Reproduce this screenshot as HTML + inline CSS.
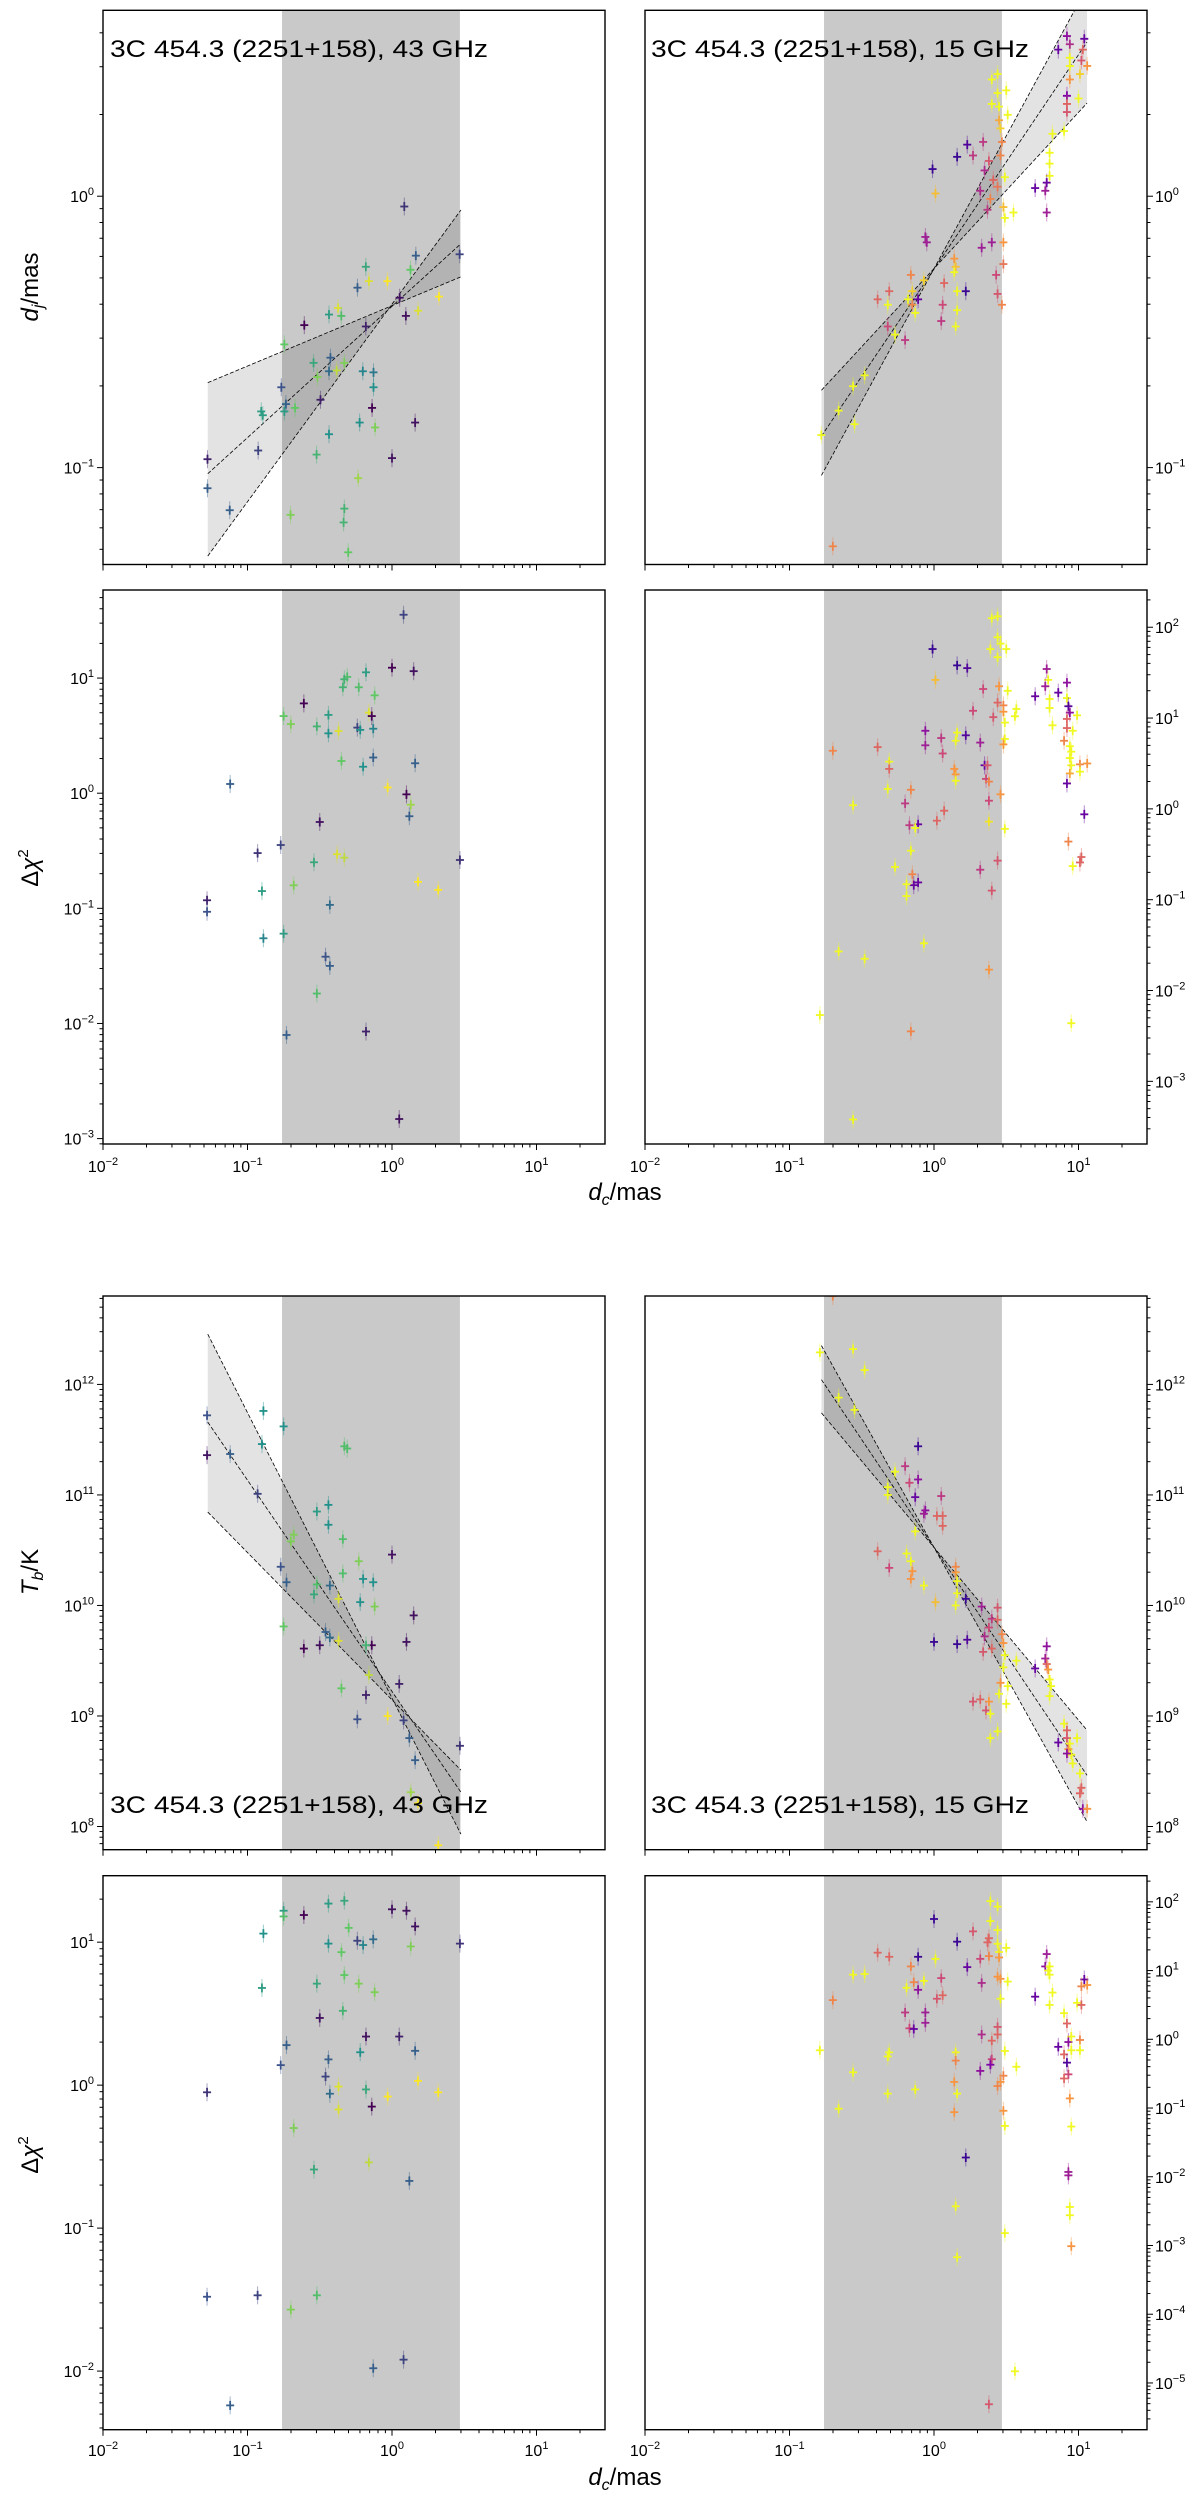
<!DOCTYPE html>
<html><head><meta charset="utf-8"><style>
html,body{margin:0;padding:0;background:#fff;}
svg{display:block;font-family:"Liberation Sans",sans-serif;}
</style></head><body>
<svg id="fig" width="1200" height="2499" viewBox="0 0 1200 2499" xmlns="http://www.w3.org/2000/svg"></svg>
<script>
// ---- data (log10 values) ----
const p1L_logdc=[0.085,0.468,0.165,0.128,-0.181,-0.239,-0.160,-0.032,0.053,0.325,0.096,0.181,-0.373,-0.436,-0.351,-0.607,-0.181,-0.745,-0.426,-0.543,-0.330,-0.516,-0.436,-0.383,-0.202,-0.128,-0.766,-0.128,-0.734,-0.495,-0.905,-0.894,-0.745,-0.671,-0.138,-0.224,0.160,-0.436,-0.117,-0.926,-1.277,-0.522,0,-1.277,-0.234,-1.123,-0.330,-0.702,-0.335,-0.303];
const p1L_logdj=[-0.038,-0.214,-0.219,-0.271,-0.260,-0.337,-0.313,-0.313,-0.374,-0.370,-0.441,-0.422,-0.412,-0.436,-0.441,-0.475,-0.480,-0.546,-0.595,-0.614,-0.614,-0.666,-0.645,-0.642,-0.645,-0.649,-0.704,-0.704,-0.766,-0.750,-0.793,-0.807,-0.793,-0.780,-0.780,-0.834,-0.834,-0.877,-0.852,-0.937,-0.969,-0.952,-0.965,-1.076,-1.039,-1.157,-1.151,-1.174,-1.202,-1.312];
const p1L_epoch=[0.15,0.2,0.3,0.75,0.6,0.3,0.95,1,0.05,1,0.05,0.95,0.95,0.55,0.7,0,0.1,0.75,0.3,0.6,0.8,0.8,0.35,0.9,0.45,0.4,0.25,0.5,0.3,0.1,0.55,0.55,0.55,0.75,0,0.5,0.05,0.5,0.8,0.2,0.1,0.65,0.05,0.3,0.85,0.3,0.65,0.8,0.65,0.75];

const p1R_logdc=[0.92,1.04,0.86,0.94,1.03,0.94,1.02,0.94,1.06,1.01,0.94,0.44,0.40,0.50,0.44,0.92,0.40,0.45,0.92,0.51,0.92,1.00,0.45,0.46,0.82,0.90,0.34,0.23,0.47,0.27,0.16,0.46,0.80,0.80,0.80,0.78,0.38,-0.01,0.35,0.49,0.41,0.44,0.70,0.77,0.32,0.01,0.39,0.48,0.37,0.49,0.55,0.78,-0.06,-0.05,0.33,0.40,0.48,0.14,-0.16,0.15,0.48,0.43,0.07,-0.07,0.14,-0.31,0.16,0.22,-0.15,-0.39,-0.18,-0.11,0.44,-0.32,0.06,-0.15,0.47,-0.13,0.16,0.05,-0.32,0.15,-0.27,-0.20,-0.48,-0.56,-0.66,-0.55,-0.78,-0.70];
const p1R_logdj=[0.59,0.58,0.54,0.56,0.54,0.51,0.50,0.48,0.48,0.45,0.43,0.45,0.43,0.39,0.38,0.37,0.34,0.33,0.34,0.30,0.31,0.36,0.28,0.25,0.23,0.24,0.20,0.19,0.20,0.15,0.145,0.15,0.16,0.12,0.075,0.05,0.13,0.10,0.095,0.07,0.06,0.035,0.03,0.02,0.02,0.01,-0.01,-0.04,-0.05,-0.08,-0.06,-0.06,-0.15,-0.17,-0.19,-0.17,-0.17,-0.23,-0.29,-0.26,-0.25,-0.29,-0.32,-0.31,-0.28,-0.35,-0.35,-0.35,-0.35,-0.38,-0.38,-0.38,-0.36,-0.40,-0.40,-0.40,-0.40,-0.43,-0.42,-0.46,-0.48,-0.48,-0.51,-0.53,-0.66,-0.70,-0.79,-0.84,-0.88,-1.29];
const p1R_epoch=[0.3,0.2,0.2,0.4,0.6,1,0.55,1,0.75,0.9,0.75,1,1,1,1,0.25,1,1,0.6,1,0.55,1,0.8,0.9,1,1,0.45,0.15,0.7,0.45,0.1,0.7,1,1,1,0.2,0.55,0.1,0.4,1,0.6,0.65,0.2,0.35,0.4,0.85,0.7,0.85,0.45,1,1,0.35,0.35,0.35,0.35,0.35,0.75,0.75,0.7,0.85,0.65,0.5,0.6,0.9,1,0.6,1,0.1,0.9,0.6,1,0.2,0.55,1,0.5,0.7,0.7,1,1,0.45,0.5,1,1,0.45,1,1,1,1,1,0.7];

const p2L_logdc=[0.08,0,0.15,-0.18,-0.31,-0.33,-0.34,-0.23,-0.12,-0.61,-0.75,-0.44,-0.16,-0.14,-0.70,-0.52,-0.37,-0.44,-0.24,-0.22,-0.13,-0.13,-0.35,0.16,-0.20,-1.12,-0.03,0.10,0.13,0.12,-0.50,-0.77,-0.93,-0.38,-0.33,0.47,-0.54,0.18,0.32,-0.90,-0.68,-1.28,-1.28,-0.43,-0.75,-0.89,-0.46,-0.43,-0.52,-0.18,-0.73,0.05];
const p2L_logchi=[1.55,1.09,1.06,1.05,1.01,0.99,0.92,0.92,0.85,0.78,0.67,0.68,0.70,0.67,0.60,0.58,0.54,0.52,0.57,0.55,0.56,0.31,0.28,0.26,0.23,0.08,0.05,-0.01,-0.10,-0.20,-0.25,-0.45,-0.52,-0.53,-0.56,-0.58,-0.60,-0.77,-0.84,-0.85,-0.80,-0.93,-1.03,-0.97,-1.22,-1.26,-1.42,-1.50,-1.74,-2.07,-2.10,-2.83];
const p2L_epoch=[0.2,0,0.05,0.55,0.7,0.65,0.65,0.7,0.75,0,0.75,0.55,0.95,0,0.8,0.65,0.95,0.5,0.2,0.5,0.45,0.3,0.75,0.3,0.5,0.3,1,0,0.85,0.3,0.05,0.2,0.15,0.95,0.9,0.15,0.6,1,1,0.55,0.8,0.1,0.25,0.35,0.55,0.45,0.25,0.3,0.7,0.1,0.3,0.05];

const p2R_logdc=[0.40,0.44,0.44,0.46,0.39,0.50,0.44,-0.01,0.16,0.23,0.78,0.01,0.79,0.92,0.45,0.34,0.51,0.77,0.86,0.70,0.80,0.92,0.44,0.48,0.93,0.80,0.27,0.57,0.94,0.48,0.41,0.56,0.99,0.92,0.49,0.82,0.92,0.96,-0.06,0.22,0.16,0.05,0.15,-0.39,-0.06,0.32,0.49,0.48,-0.70,0.90,0.94,0.06,0.95,0.94,-0.31,0.95,0.35,0.37,1.01,1.06,-0.31,0.14,0.94,1.01,0.15,0.15,0.36,0.38,0.92,-0.32,-0.16,0.46,0.38,-0.20,-0.56,1.04,0.07,0.02,0.38,-0.17,-0.11,-0.13,0.49,0.93,-0.16,1.02,1.01,0.44,-0.27,0.96,0.32,-0.15,-0.11,-0.14,-0.19,0.40,-0.19,-0.07,-0.66,-0.48,0.38,-0.79,0.95,-0.16,-0.56];
const p2R_logchi=[2.10,2.12,1.89,1.82,1.76,1.76,1.67,1.76,1.58,1.55,1.54,1.42,1.42,1.39,1.35,1.32,1.30,1.35,1.28,1.24,1.21,1.22,1.17,1.14,1.13,1.11,1.08,1.10,1.06,1.07,1.01,1.02,1.03,0.99,0.95,0.92,0.89,0.86,0.86,0.81,0.84,0.78,0.75,0.68,0.70,0.73,0.77,0.71,0.64,0.75,0.69,0.61,0.63,0.56,0.52,0.48,0.48,0.48,0.49,0.50,0.44,0.44,0.39,0.41,0.38,0.31,0.33,0.30,0.28,0.22,0.21,0.16,0.09,0.06,0.04,-0.06,-0.02,-0.13,-0.14,-0.18,-0.17,-0.21,-0.22,-0.36,-0.46,-0.53,-0.59,-0.57,-0.64,-0.63,-0.67,-0.72,-0.81,-0.84,-0.83,-0.90,-0.96,-1.48,-1.57,-1.65,-1.77,-2.27,-2.36,-2.45,-3.42];
const p2R_epoch=[1,1,1,1,1,1,1,0.1,0.1,0.15,0.35,0.85,1,0.3,0.75,0.5,1,0.35,0.2,0.2,1,1,0.6,0.7,0.15,1,0.5,1,0.3,0.75,0.55,1,1,0.6,1,1,0.6,1,0.3,0.15,1,0.45,1,0.6,0.35,0.35,1,0.75,0.7,0.7,1,0.5,1,1,1,1,0.2,0.55,0.7,0.75,0.6,0.75,0.8,1,0.75,1,0.5,0.7,0.2,1,0.7,0.75,0.5,0.45,1,0.2,0.6,0.6,0.95,0.45,0.2,1,1,0.7,1,0.6,0.6,0.55,1,1,0.45,0.7,0.2,0.2,1,0.55,1,1,1,1,0.75,1,1,0.7,1];

const p3L_logdc=[-1.28,-0.89,-0.75,-0.90,-0.33,-0.31,-1.28,-1.12,-0.93,-0.44,-0.52,-0.44,-0.68,-0.70,-0.34,0,-0.23,-0.77,-0.34,-0.73,-0.20,-0.13,-0.52,-0.43,-0.54,-0.37,-0.22,-0.12,0.15,-0.75,-0.46,-0.43,-0.37,0.10,-0.50,-0.61,-0.14,-0.18,-0.16,0.05,-0.35,-0.18,-0.24,-0.03,0.08,0.12,0.47,0.16,0.13,0.18,0.32];
const p3L_logTb=[11.72,11.76,11.62,11.46,11.44,11.42,11.36,11.37,11.01,10.91,10.85,10.73,10.64,10.58,10.60,10.46,10.40,10.35,10.29,10.21,10.24,10.21,10.19,10.18,10.10,10.06,10.03,9.99,9.91,9.81,9.76,9.71,9.68,9.67,9.64,9.61,9.64,9.64,9.37,9.29,9.25,9.19,8.97,9.00,8.96,8.80,8.73,8.60,8.31,8.21,7.83];
const p3L_epoch=[0.25,0.5,0.5,0.5,0.7,0.7,0.05,0.3,0.2,0.5,0.55,0.5,0.8,0.8,0.7,0.05,0.8,0.25,0.7,0.3,0.5,0.5,0.7,0.35,0.6,0.95,0.5,0.8,0.05,0.75,0.3,0.35,0.95,0.05,0.05,0,0,0.65,0.9,0.1,0.75,0.1,0.25,1,0.2,0.3,0.15,0.3,0.85,1,1];

const p3R_logdc=[-0.70,-0.79,-0.56,-0.48,-0.66,-0.55,-0.11,-0.20,-0.27,-0.17,-0.11,-0.32,-0.32,-0.13,0.05,-0.06,-0.07,0.02,0.06,0.06,-0.13,-0.39,-0.19,-0.16,-0.31,-0.15,0.15,0.15,-0.16,0.16,-0.07,0.16,0.22,0.01,0.15,0.33,0.44,0.40,0.44,0.38,0.47,0.35,0,0.16,0.23,0.48,0.78,0.34,0.40,0.49,0.77,0.78,0.57,0.70,0.48,0.79,0.80,0.46,0.81,0.51,0.45,0.80,0.32,0.27,0.38,0.50,0.36,0.39,0.90,0.92,0.44,0.39,0.99,0.92,0.86,0.94,0.93,0.95,0.92,0.96,1.01,1.02,1.01,1.03,1.06];
const p3R_logTb=[12.80,12.29,12.32,12.13,11.88,11.77,11.44,11.26,11.21,11.11,11.14,11.07,11.00,10.98,10.99,10.86,10.83,10.81,10.81,10.72,10.67,10.49,10.47,10.40,10.34,10.31,10.35,10.30,10.24,10.22,10.18,10.11,10.06,10.03,10.00,9.99,9.98,9.88,9.87,9.80,9.74,9.72,9.67,9.65,9.69,9.66,9.63,9.58,9.61,9.55,9.52,9.47,9.50,9.43,9.44,9.42,9.33,9.30,9.27,9.27,9.20,9.18,9.15,9.13,9.13,9.11,9.05,9.02,8.93,8.87,8.86,8.80,8.80,8.80,8.76,8.75,8.70,8.65,8.66,8.57,8.48,8.35,8.30,8.16,8.16];
const p3R_epoch=[0.7,1,1,1,1,1,0.1,0.45,1,0.5,0.3,1,1,0.2,0.45,0.3,0.35,0.6,0.6,0.6,1,0.6,1,1,0.5,0.75,0.7,0.75,0.75,1,1,1,0.1,0.85,1,0.35,0.55,0.45,0.6,0.5,0.7,0.4,0.1,0.1,0.15,0.75,0.3,0.55,0.6,1,0.35,0.6,1,0.2,1,0.75,1,0.75,1,1,1,1,0.6,0.55,0.75,1,0.55,1,1,0.6,1,1,1,0.55,0.2,1,0.75,1,0.3,1,1,0.6,0.6,0.3,0.75];

const p4L_logdc=[-0.33,-0.44,-0.75,-0.75,-0.61,0,0.10,0.16,-0.30,-0.89,-0.24,-0.13,-0.44,-0.20,0.47,0.13,-0.35,-0.33,-0.90,-0.52,-0.23,-0.12,-0.34,-0.50,-0.18,0.05,-0.73,0.16,-0.22,-0.77,-0.44,-0.46,0.18,-0.37,-1.28,0.32,-0.43,-0.18,-0.03,-0.37,-0.14,-0.68,-0.16,-0.54,0.12,-1.28,-0.93,-0.52,-0.70,0.08,-0.13,-1.12];
const p4L_logchi=[1.29,1.27,1.22,1.18,1.19,1.23,1.22,1.11,1.10,1.06,1.01,1.02,0.99,0.98,0.99,0.97,0.93,0.77,0.68,0.71,0.71,0.65,0.52,0.47,0.34,0.34,0.28,0.24,0.23,0.14,0.18,0.06,0.03,-0.01,-0.05,-0.05,-0.06,-0.03,-0.08,-0.17,-0.15,-0.30,-0.54,-0.59,-0.67,-1.48,-1.47,-1.47,-1.57,-1.92,-1.98,-2.24];
const p4L_epoch=[0.6,0.55,0.55,0.7,0,0.05,0.05,0.05,0.75,0.5,0.2,0.35,0.5,0.45,0.15,0.8,0.75,0.75,0.55,0.6,0.8,0.8,0.65,0.05,0.05,0.1,0.3,0.3,0.5,0.25,0.3,0.2,1,0.95,0.15,1,0.35,0.6,1,0.95,0,0.8,0.9,0.6,0.3,0.25,0.2,0.7,0.8,0.2,0.3,0.3];

const p4R_logdc=[0.39,0.44,0.39,0,0.44,0.27,0.38,0.37,0.16,0.44,0.50,0.45,0.78,-0.39,-0.31,-0.11,0.01,0.32,0.45,0.38,0.23,0.77,0.80,0.79,-0.16,0.80,-0.56,-0.48,0.05,0.44,0.46,1.04,1.02,1.06,0.51,-0.14,-0.07,0.33,-0.19,-0.11,0.82,0.70,0.02,0.06,0.46,-0.70,0.80,0.99,1.02,-0.20,-0.06,0.90,0.92,-0.06,-0.17,-0.14,0.44,0.33,0.44,0.40,0.95,1.01,0.93,0.86,-0.79,0.95,1.01,-0.31,0.15,0.49,-0.32,0.90,0.92,0.15,0.40,0.39,0.57,0.32,-0.56,0.93,0.48,0.90,0.46,0.14,0.44,-0.13,-0.32,0.16,0.94,-0.66,0.14,0.48,0.49,0.95,0.22,0.93,0.93,0.15,0.94,0.94,0.49,0.95,0.16,0.56,0.38];
const p4R_logchi=[2.01,1.93,1.72,1.75,1.59,1.57,1.47,1.41,1.42,1.39,1.33,1.27,1.24,1.26,1.20,1.20,1.17,1.17,1.19,1.21,1.05,1.06,1.06,1.00,1.06,0.94,0.94,0.95,0.89,0.91,0.88,0.87,0.77,0.79,0.84,0.83,0.85,0.82,0.75,0.72,0.68,0.62,0.59,0.64,0.59,0.57,0.50,0.53,0.50,0.39,0.39,0.38,0.23,0.24,0.16,0.15,0.18,0.07,0.07,-0.02,0.04,-0.01,-0.04,-0.11,-0.16,-0.16,-0.16,-0.19,-0.19,-0.17,-0.25,-0.22,-0.34,-0.31,-0.29,-0.37,-0.40,-0.46,-0.48,-0.51,-0.53,-0.57,-0.62,-0.62,-0.68,-0.73,-0.79,-0.79,-0.86,-1.01,-1.06,-1.04,-1.26,-1.27,-1.72,-1.93,-1.98,-2.43,-2.44,-2.56,-2.82,-3.01,-3.17,-4.83,-5.31];
const p4R_epoch=[1,1,1,0.1,1,0.55,0.6,0.6,0.1,1,1,1,0.35,0.6,0.6,0.1,1,0.5,0.75,0.7,0.2,0.3,1,1,0.7,1,1,1,0.5,0.75,0.75,0.2,0.7,0.75,1,0.7,1,0.4,1,0.3,1,0.2,0.55,0.6,1,0.7,1,1,0.6,0.45,0.35,1,0.6,0.35,0.5,0.2,0.55,0.4,0.6,0.6,1,0.7,0.3,0.2,1,1,1,1,1,1,1,0.6,0.15,0.7,0.5,0.25,1,0.3,1,0.5,0.7,0.6,0.75,0.75,0.7,1,1,1,0.75,1,0.75,0.75,1,1,0.1,0.35,0.35,1,1,1,1,0.75,1,1,0.55];

// fit lines: log dc range and log-y endpoints of each line
const fit1L_range=[-1.275,0.477], fit1L_lines=[[-0.687,-0.297],[-1.0225,-0.175],[-1.326,-0.0506]];
const fit1R_range=[-0.779,1.059], fit1R_lines=[[-0.715,0.343],[-0.884,0.568],[-1.029,0.769]];
const fit3L_range=[-1.275,0.477], fit3L_lines=[[12.455,7.93],[11.659,8.31],[10.845,8.51]];
const fit3R_range=[-0.779,1.059], fit3R_lines=[[12.351,8.043],[12.043,8.463],[11.742,8.871]];
const band=[-0.761,0.47];

// ---- drawing ----
const NS="http://www.w3.org/2000/svg", svg=document.getElementById('fig');
function mk(tag,attrs,parent){const e=document.createElementNS(NS,tag);for(const k in attrs)e.setAttribute(k,attrs[k]);(parent||svg).appendChild(e);return e;}
function lerpStops(st,t){t=Math.max(0,Math.min(1,t));for(let i=1;i<st.length;i++){if(t<=st[i][0]){const a=st[i-1],b=st[i],f=(t-a[0])/(b[0]-a[0]);const c=[0,1,2].map(j=>Math.round(a[1][j]+(b[1][j]-a[1][j])*f));return `rgb(${c})`;}}return `rgb(${st[st.length-1][1]})`;}
const viridis=[[0,[68,1,84]],[0.25,[59,82,139]],[0.5,[33,145,140]],[0.75,[94,201,98]],[1,[253,231,37]]];
const plasma=[[0,[13,8,135]],[0.25,[126,3,168]],[0.5,[204,71,120]],[0.75,[248,149,64]],[1,[240,249,33]]];

const XL=[103,605], XR=[645,1147], XLOG=[-2,1.474];
function makePanel(id,xpx,ypx,ylog,side,ylabelsOn){
  const P={id,x0:xpx[0],x1:xpx[1],y0:ypx[0],y1:ypx[1],ylog};
  P.sx=v=>P.x0+(v-XLOG[0])/(XLOG[1]-XLOG[0])*(P.x1-P.x0);
  P.sy=v=>P.y1-(v-ylog[0])/(ylog[1]-ylog[0])*(P.y1-P.y0);
  const g=mk('g',{});
  
  
  P.g=g;
  const cp=mk('clipPath',{id:'cp-'+id},g);
  mk('rect',{x:P.x0,y:P.y0,width:P.x1-P.x0,height:P.y1-P.y0},cp);
  P.inner=mk('g',{'clip-path':`url(#cp-${id})`},g);
  const b=mk('rect',{x:P.sx(band[0]),y:P.y0,width:P.sx(band[1])-P.sx(band[0]),height:P.y1-P.y0,fill:'#c9c9c9'},P.inner);
  
  
  return P;
}
function axes(P,side,xlabels,xlabY){
  const g=P.g;
  const fr=mk('rect',{x:P.x0,y:P.y0,width:P.x1-P.x0,height:P.y1-P.y0,fill:'none',stroke:'#000','stroke-width':1.4},g);
  
  
  // x ticks
  for(let d=-2;d<=1;d++){for(let k=1;k<10;k++){const v=d+Math.log10(k);if(v>XLOG[1])continue;const x=P.sx(v);
    mk('line',{x1:x,x2:x,y1:P.y1,y2:P.y1+(k==1?6:3.5),stroke:'#000','stroke-width':1},g);}
    if(xlabels){const t=mk('text',{x:P.sx(d),y:xlabY,'text-anchor':'middle','font-size':16},g);
      
      
      t.textContent='10';const s=mk('tspan',{dy:-7,'font-size':11},t);s.textContent=(d<0?'\u2212':'')+Math.abs(d);}
  }
  // y ticks
  const lo=Math.floor(P.ylog[0]),hi=Math.ceil(P.ylog[1]);
  for(let d=lo;d<=hi;d++){for(let k=1;k<10;k++){const v=d+Math.log10(k);if(v<P.ylog[0]||v>P.ylog[1])continue;const y=P.sy(v);const L=k==1?6:3.5;
    if(side=='left')mk('line',{x1:P.x0,x2:P.x0-L,y1:y,y2:y,stroke:'#000','stroke-width':1},g);
    else mk('line',{x1:P.x1,x2:P.x1+L,y1:y,y2:y,stroke:'#000','stroke-width':1},g);
    if(k==1){const t=mk('text',side=='left'?{x:P.x0-9,y:y+6,'text-anchor':'end','font-size':16}:{x:P.x1+8,y:y+6,'text-anchor':'start','font-size':16},g);
      
      
      t.textContent='10';const s=mk('tspan',{dy:-7,'font-size':11},t);s.textContent=(d<0?'\u2212':'')+Math.abs(d);}
  }}
}
function fit(P,range,lines){
  const N=60,up=[],dn=[];
  for(let i=0;i<=N;i++){const x=range[0]+(range[1]-range[0])*i/N,f=i/N;
    const ys=lines.map(l=>l[0]+(l[1]-l[0])*f);up.push([P.sx(x),P.sy(Math.max(...ys))]);dn.push([P.sx(x),P.sy(Math.min(...ys))]);}
  const pts=up.concat(dn.reverse()).map(p=>p.join(',')).join(' ');
  const poly=mk('polygon',{points:pts,fill:'rgba(0,0,0,0.11)'},P.inner);
  
  
  lines.forEach(l=>{const ln=mk('line',{x1:P.sx(range[0]),y1:P.sy(l[0]),x2:P.sx(range[1]),y2:P.sy(l[1]),stroke:'#000','stroke-width':0.8,'stroke-dasharray':'4,2'},P.inner);
    
    });
}
function points(P,xs,ys,cs,cmap){
  const n=Math.min(xs.length,ys.length,cs.length);
  for(let i=0;i<n;i++){const x=P.sx(xs[i]),y=P.sy(ys[i]),c=lerpStops(cmap,cs[i]);
    const g=mk('g',{stroke:c},P.inner);
    
    
    mk('line',{x1:x,x2:x,y1:y-9,y2:y+9,'stroke-width':1,'stroke-opacity':0.45},g);
    mk('line',{x1:x-4,x2:x+4,y1:y,y2:y,'stroke-width':1.8},g);
    mk('line',{x1:x,x2:x,y1:y-4.5,y2:y+4.5,'stroke-width':1.8},g);}
}
function txt(attrs,s,name,rot){const t=mk('text',attrs);t.innerHTML=s;return t;}

const p1L=makePanel('dj-43ghz-panel',XL,[10.3,564.5],[-1.357,0.685]);
fit(p1L,fit1L_range,fit1L_lines);points(p1L,p1L_logdc,p1L_logdj,p1L_epoch,viridis);axes(p1L,'left',false);
const p1R=makePanel('dj-15ghz-panel',XR,[10.3,564.5],[-1.357,0.685]);
fit(p1R,fit1R_range,fit1R_lines);points(p1R,p1R_logdc,p1R_logdj,p1R_epoch,plasma);axes(p1R,'right',false);

const p2L=makePanel('chi2-dj-43ghz-panel',XL,[590,1144],[-3.047,1.765]);
points(p2L,p2L_logdc,p2L_logchi,p2L_epoch,viridis);axes(p2L,'left',true,1172);
const p2R=makePanel('chi2-dj-15ghz-panel',XR,[590,1144],[-3.69,2.41]);
points(p2R,p2R_logdc,p2R_logchi,p2R_epoch,plasma);axes(p2R,'right',true,1172);

const p3L=makePanel('tb-43ghz-panel',XL,[1296,1849.7],[7.79,12.80]);
fit(p3L,fit3L_range,fit3L_lines);points(p3L,p3L_logdc,p3L_logTb,p3L_epoch,viridis);axes(p3L,'left',false);
const p3R=makePanel('tb-15ghz-panel',XR,[1296,1849.7],[7.79,12.80]);
fit(p3R,fit3R_range,fit3R_lines);points(p3R,p3R_logdc,p3R_logTb,p3R_epoch,plasma);axes(p3R,'right',false);

const p4L=makePanel('chi2-tb-43ghz-panel',XL,[1875.7,2429.7],[-2.41,1.465]);
points(p4L,p4L_logdc,p4L_logchi,p4L_epoch,viridis);axes(p4L,'left',true,2456);
const p4R=makePanel('chi2-tb-15ghz-panel',XR,[1875.7,2429.7],[-5.68,2.38]);
points(p4R,p4R_logdc,p4R_logchi,p4R_epoch,plasma);axes(p4R,'right',true,2456);

// titles
const T='3C 454.3 (2251+158), ';
[[110,57,'43 GHz'],[651,57,'15 GHz'],[110,1813,'43 GHz'],[651,1813,'15 GHz']].forEach(a=>{
  txt({x:a[0],y:a[1],'font-size':24,textLength:378,lengthAdjust:'spacingAndGlyphs'},T+a[2],'panel-title');});
// axis labels
txt({x:0,y:0,'font-size':24,'text-anchor':'middle',transform:'translate(38,287) rotate(-90)'},'<tspan font-style="italic">d</tspan><tspan font-style="italic" font-size="16" dy="5">j</tspan><tspan dy="-5">/mas</tspan>','y-axis-title-dj');
txt({x:0,y:0,'font-size':24,'text-anchor':'middle',transform:'translate(38,868) rotate(-90)'},'\u0394<tspan font-style="italic">\u03c7</tspan><tspan font-size="15" dy="-10">2</tspan>','y-axis-title-chi2');
txt({x:0,y:0,'font-size':24,'text-anchor':'middle',transform:'translate(38,1572) rotate(-90)'},'<tspan font-style="italic">T</tspan><tspan font-style="italic" font-size="16" dy="5">b</tspan><tspan dy="-5">/K</tspan>','y-axis-title-tb');
txt({x:0,y:0,'font-size':24,'text-anchor':'middle',transform:'translate(38,2155) rotate(-90)'},'\u0394<tspan font-style="italic">\u03c7</tspan><tspan font-size="15" dy="-10">2</tspan>','y-axis-title-chi2-lower');
txt({x:625,y:1200,'font-size':24,'text-anchor':'middle'},'<tspan font-style="italic">d</tspan><tspan font-style="italic" font-size="16" dy="5">c</tspan><tspan dy="-5">/mas</tspan>','x-axis-title-upper');
txt({x:625,y:2485,'font-size':24,'text-anchor':'middle'},'<tspan font-style="italic">d</tspan><tspan font-style="italic" font-size="16" dy="5">c</tspan><tspan dy="-5">/mas</tspan>','x-axis-title-lower');
</script>
</body></html>
